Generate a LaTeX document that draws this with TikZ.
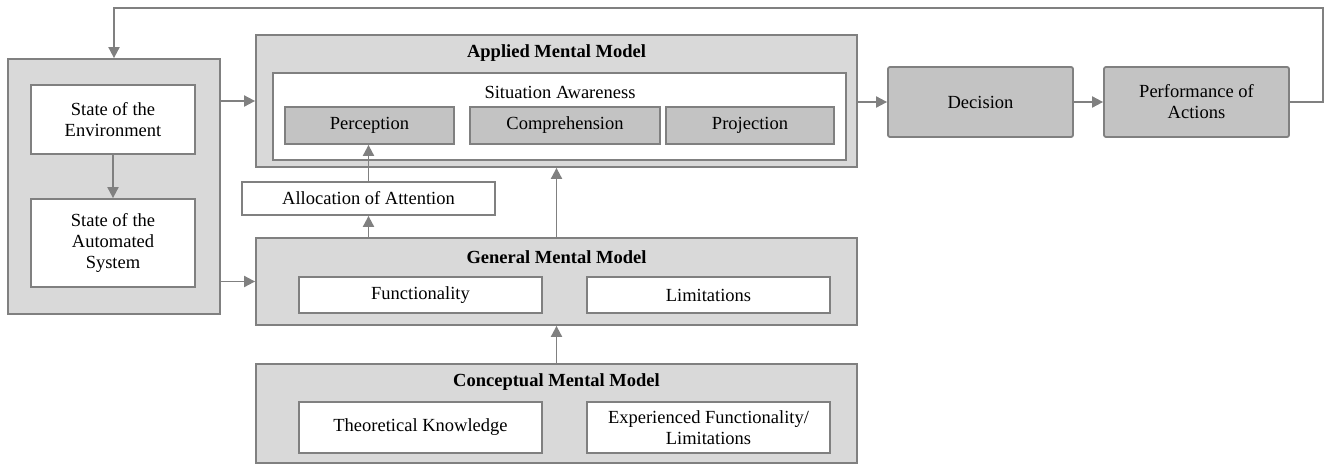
\documentclass[tikz,border=0pt]{standalone}
\usepackage{fontspec}
\setmainfont{Liberation Serif}
\newfontfamily\timesfam{Liberation Serif}
\usetikzlibrary{arrows.meta,calc}
\definecolor{lightfill}{HTML}{D9D9D9}
\definecolor{darkfill}{HTML}{C3C3C3}
\definecolor{edgegray}{HTML}{808080}
\begin{document}
\begin{tikzpicture}[x=1pt,y=-1pt,
  font=\timesfam\fontsize{18.5}{21}\selectfont,
  base/.style={draw=edgegray,line width=1.8pt,inner sep=0pt,align=center},
  outerbox/.style={base,fill=lightfill},
  whitebox/.style={base,fill=white},
  darkbox/.style={base,fill=darkfill},
  conn/.style={draw=edgegray,line width=1.9pt,-{Triangle[length=11pt,width=11pt]}},
  ttl/.style={inner sep=0pt,font=\timesfam\fontsize{18.5}{21}\selectfont\bfseries}
]
\useasboundingbox (0,0) rectangle (1325,466);
% left block
\node[outerbox,minimum width=212pt,minimum height=255pt] (left) at (114,186.5) {};
\node[whitebox,minimum width=164pt,minimum height=69pt] (env) at (113,119.5) {State of the\\Environment};
\node[whitebox,minimum width=164pt,minimum height=88pt] (auto) at (113,243) {State of the\\Automated\\System};
% applied mental model
\node[outerbox,minimum width=601pt,minimum height=132pt] (applied) at (556.5,101) {};
\node[ttl] (appliedT) at (556.5,53) {Applied Mental Model};
\node[whitebox,minimum width=573pt,minimum height=87pt] (sa) at (559.5,116.5) {};
\node[inner sep=0pt] (saT) at (560,92) {Situation Awareness};
\node[darkbox,minimum width=169pt,minimum height=37pt] (perc) at (369.5,125.5) {Perception};
\node[darkbox,minimum width=190pt,minimum height=37pt] (comp) at (565,125.5) {Comprehension};
\node[darkbox,minimum width=168pt,minimum height=37pt] (proj) at (750,125.5) {Projection};
% decision, performance
\node[darkbox,rounded corners=2pt,minimum width=185pt,minimum height=70pt] (dec) at (980.5,102) {Decision};
\node[darkbox,rounded corners=2pt,minimum width=185pt,minimum height=70pt] (perf) at (1196.5,102) {Performance of\\Actions};
% allocation
\node[whitebox,minimum width=253pt,minimum height=33pt] (alloc) at (368.5,198.5) {Allocation of Attention};
% general mental model
\node[outerbox,minimum width=601pt,minimum height=87pt] (general) at (556.5,281.5) {};
\node[ttl] (generalT) at (556.5,257) {General Mental Model};
\node[whitebox,minimum width=243pt,minimum height=36pt] (func) at (420.5,295) {Functionality};
\node[whitebox,minimum width=243pt,minimum height=36pt] (lim) at (708.5,295) {Limitations};
% conceptual mental model
\node[outerbox,minimum width=601pt,minimum height=99pt] (concept) at (556.5,413.5) {};
\node[ttl] (conceptT) at (556.5,382) {Conceptual Mental Model};
\node[whitebox,minimum width=243pt,minimum height=51pt] (theo) at (420.5,427.5) {Theoretical Knowledge};
\node[whitebox,minimum width=243pt,minimum height=51pt] (expf) at (708.5,427.5) {Experienced Functionality/\\Limitations};
% feedback loop corners
\coordinate (fbR) at (1323,102);
\coordinate (fbTR) at (1323,8);
\coordinate (fbTL) at (114,8);
% connectors
\draw[conn] (perf.east) -- (fbR) -- (fbTR) -- (fbTL) -- (left.north);
\draw[conn] (env.south) -- (auto.north);
\draw[conn] (applied.west -| left.east) -- (applied.west);
\draw[conn] (general.west -| left.east) -- (general.west);
\draw[conn] (dec.west -| applied.east) -- (dec.west);
\draw[conn] (dec.east) -- (perf.west);
\draw[conn] (alloc.north) -- (perc.south -| alloc.north);
\draw[conn] (alloc.south |- general.north) -- (alloc.south);
\draw[conn] (general.north) -- (applied.south);
\draw[conn] (concept.north) -- (general.south);
\end{tikzpicture}
\end{document}
